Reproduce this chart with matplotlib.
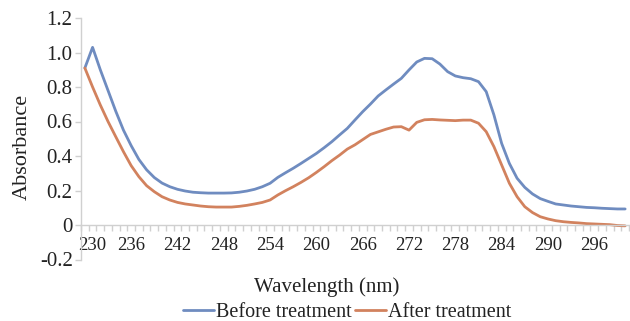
import numpy as np
import matplotlib
matplotlib.use("Agg")
import matplotlib.pyplot as plt
from matplotlib.ticker import FixedLocator, FixedFormatter
from matplotlib.transforms import ScaledTranslation

wavelength = list(range(230, 301))

before = [0.91, 1.03, 0.90, 0.78, 0.66, 0.55, 0.46, 0.38, 0.32, 0.275,
          0.243, 0.222, 0.207, 0.197, 0.19, 0.187, 0.185, 0.185, 0.185, 0.186,
          0.19, 0.197, 0.207, 0.222, 0.242, 0.276, 0.303, 0.329, 0.357, 0.386,
          0.415, 0.448, 0.483, 0.522, 0.56, 0.609, 0.657, 0.701, 0.748, 0.783,
          0.817, 0.85, 0.899, 0.945, 0.966, 0.964, 0.933, 0.889, 0.864, 0.854,
          0.848, 0.831, 0.773, 0.638, 0.473, 0.357, 0.271, 0.218, 0.18, 0.153,
          0.137, 0.122, 0.116, 0.11, 0.106, 0.102, 0.10, 0.097, 0.095, 0.093,
          0.093]

after = [0.91, 0.80, 0.696, 0.60, 0.512, 0.425, 0.344, 0.28, 0.228, 0.193,
         0.164, 0.145, 0.131, 0.122, 0.116, 0.11, 0.106, 0.104, 0.104, 0.104,
         0.108, 0.114, 0.122, 0.131, 0.145, 0.174, 0.199, 0.222, 0.247, 0.274,
         0.305, 0.338, 0.373, 0.405, 0.44, 0.465, 0.495, 0.525, 0.54, 0.555,
         0.568, 0.57, 0.55, 0.595, 0.61, 0.612, 0.609, 0.607, 0.605, 0.608,
         0.608, 0.59, 0.541, 0.454, 0.348, 0.242, 0.164, 0.106, 0.072, 0.048,
         0.035, 0.025, 0.019, 0.015, 0.012, 0.008, 0.006, 0.004, 0.002, -0.003,
         -0.005]

x_labels = list(range(230, 297, 6))
y_ticks = [-0.2, 0, 0.2, 0.4, 0.6, 0.8, 1.0, 1.2]
y_labels = ["-0.2", "0", "0.2", "0.4", "0.6", "0.8", "1.0", "1.2"]

series_names = ["Before treatment", "After treatment"]
colors = ["#6f8cc0", "#d2825e"]

plt.rcParams['font.family'] = ['Liberation Serif', 'DejaVu Serif']

fig = plt.figure(figsize=(6.30, 3.21), dpi=100)
ax = fig.add_axes([81/630, 1 - 259.5/321, (629 - 81)/630, (259.5 - 18)/321])

ax.plot(wavelength, before, color=colors[0], lw=2.0, label=series_names[0],
        solid_joinstyle='round', solid_capstyle='round')
ax.plot(wavelength, after, color=colors[1], lw=2.0, label=series_names[1],
        solid_joinstyle='round', solid_capstyle='round')

ax.set_xlim(229.5, 300.5)
ax.set_ylim(-0.2, 1.2)

spine_c = "#d0d0d0"
for s in ["top", "right"]:
    ax.spines[s].set_visible(False)
ax.spines["left"].set_color(spine_c)
ax.spines["bottom"].set_color(spine_c)
ax.spines["bottom"].set_position(("data", 0))
ax.spines["left"].set_linewidth(1.0)
ax.spines["bottom"].set_linewidth(1.0)

ax.set_yticks(y_ticks)
ax.set_yticklabels(y_labels)
ax.tick_params(axis="y", direction="out", length=4, width=1, color=spine_c,
               labelsize=15, pad=2, labelcolor="#222222")

ax.xaxis.set_major_locator(FixedLocator(x_labels))
ax.xaxis.set_major_formatter(FixedFormatter([str(v) for v in x_labels]))
ax.xaxis.set_minor_locator(FixedLocator(np.arange(229.5, 301, 1.0)))
ax.tick_params(axis="x", which="major", length=0, labelsize=13.5, pad=9,
               labelcolor="#222222")
ax.tick_params(axis="x", which="minor", direction="out", length=4, width=1,
               color=spine_c)

fig.canvas.draw()
first = ax.xaxis.get_major_ticks()[0].label1
first.set_transform(first.get_transform() +
                    ScaledTranslation(7/100, 0, fig.dpi_scale_trans))

fig.text(22/630, 1 - 147/321, "Absorbance", rotation=90, ha="center",
         va="center", fontsize=16, color="#222222")
fig.text(327/630, 1 - 287/321, "Wavelength (nm)", ha="center", va="center",
         fontsize=15, color="#222222")

leg = fig.legend(loc="center", bbox_to_anchor=(347/630, 1 - 312/321), ncol=2,
                 frameon=False, fontsize=14.5, handlelength=1.55,
                 handletextpad=0.1, columnspacing=0.15, borderpad=0,
                 borderaxespad=0)
for t in leg.get_texts():
    t.set_color("#222222")

fig.savefig("out.png", dpi=100)
